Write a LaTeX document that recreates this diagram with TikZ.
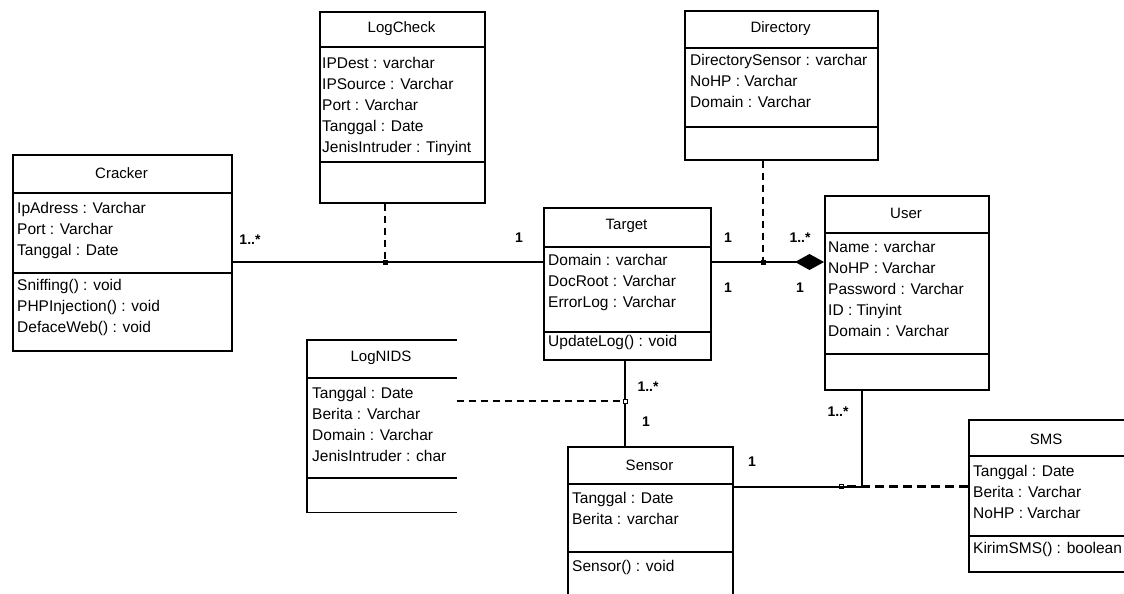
\documentclass[tikz,border=0pt]{standalone}
\usepackage{fontspec}
\setmainfont{Liberation Sans}
\usetikzlibrary{positioning,arrows.meta}

\tikzset{
  classbox/.style={draw, line width=1.6pt, rectangle, anchor=north west, inner sep=0pt},
  classtitle/.style={inner sep=0pt, font=\fontsize{15}{17}\selectfont},
  classtext/.style={anchor=north west, align=left, inner sep=0pt, font=\fontsize{15.5}{21}\selectfont},
  divider/.style={line width=1.6pt},
  assoc/.style={line width=1.6pt},
  dep/.style={line width=1.6pt, dash pattern=on 7pt off 5pt},
  smsdep/.style={line width=3pt, dash pattern=on 9pt off 5pt},
  junction/.style={draw, line width=0.8pt, fill=black, minimum size=4pt, inner sep=0pt},
  junction open/.style={junction, fill=white},
  mult/.style={inner sep=0pt, font=\bfseries\fontsize{14}{16}\selectfont}
}

\begin{document}
\begin{tikzpicture}[x=1pt, y=-1pt]
  \useasboundingbox (0,0) rectangle (1124,594);
  \clip (0,0) rectangle (1124,594);
  \fill[white] (0,0) rectangle (1124,594);

  % class boxes
  \node[classbox, minimum width=219pt, minimum height=196pt] (cracker) at (12,154) {};
  \node[classbox, minimum width=165pt, minimum height=191pt] (logcheck) at (319,11) {};
  \node[classbox, minimum width=193pt, minimum height=149pt] (directory) at (684,10) {};
  \node[classbox, minimum width=167pt, minimum height=152pt] (target) at (543,207) {};
  \node[classbox, minimum width=164pt, minimum height=194pt] (user) at (824,195) {};
  \node[classbox, draw=none, minimum width=148pt, minimum height=171pt] (lognids) at (307,340) {};
  \node[classbox, minimum width=165pt, minimum height=200pt] (sensor) at (567,446) {};
  \node[classbox, minimum width=180pt, minimum height=152pt] (sms) at (968,419) {};
  \draw[line width=1.6pt] (lognids.north east) -- (lognids.north west)
    -- (lognids.south west) -- (lognids.south east);

  % compartments
  \draw[divider] (cracker.west |- 0,193) -- (cracker.east |- 0,193);
  \draw[divider] (cracker.west |- 0,273) -- (cracker.east |- 0,273);
  \draw[divider] (logcheck.west |- 0,47) -- (logcheck.east |- 0,47);
  \draw[divider] (logcheck.west |- 0,162) -- (logcheck.east |- 0,162);
  \draw[divider] (directory.west |- 0,48) -- (directory.east |- 0,48);
  \draw[divider] (directory.west |- 0,127) -- (directory.east |- 0,127);
  \draw[divider] (target.west |- 0,247) -- (target.east |- 0,247);
  \draw[divider] (target.west |- 0,332) -- (target.east |- 0,332);
  \draw[divider] (user.west |- 0,233) -- (user.east |- 0,233);
  \draw[divider] (user.west |- 0,354) -- (user.east |- 0,354);
  \draw[divider] (lognids.west |- 0,378) -- (lognids.east |- 0,378);
  \draw[divider] (lognids.west |- 0,478) -- (lognids.east |- 0,478);
  \draw[divider] (sensor.west |- 0,484) -- (sensor.east |- 0,484);
  \draw[divider] (sensor.west |- 0,552) -- (sensor.east |- 0,552);
  \draw[divider] (sms.west |- 0,456) -- (sms.east |- 0,456);
  \draw[divider] (sms.west |- 0,536) -- (sms.east |- 0,536);

  % titles
  \node[classtitle] (crackername) at (121.5,173) {Cracker};
  \node[classtitle] (logcheckname) at (401.5,29) {LogCheck};
  \node[classtitle] (directoryname) at (780.5,29) {Directory};
  \node[classtitle] (targetname) at (626.5,226) {Target};
  \node[classtitle] (username) at (906,213) {User};
  \node[classtitle] (lognidsname) at (381,358) {LogNIDS};
  \node[classtitle] (sensorname) at (649.5,465) {Sensor};
  \node[classtitle] (smsname) at (1046,439) {SMS};

  % attributes and operations
  \node[classtext] (crackerattr) at (17,202) {IpAdress : Varchar\\Port : Varchar\\Tanggal : Date};
  \node[classtext] (crackerops) at (17,279) {Sniffing() : void\\PHPInjection() : void\\DefaceWeb() : void};
  \node[classtext] (logcheckattr) at (322,57) {IPDest : varchar\\IPSource : Varchar\\Port : Varchar\\Tanggal : Date\\JenisIntruder : Tinyint};
  \node[classtext] (directoryattr) at (690,54) {DirectorySensor : varchar\\NoHP : Varchar\\Domain : Varchar};
  \node[classtext] (targetattr) at (548,254) {Domain : varchar\\DocRoot : Varchar\\ErrorLog : Varchar};
  \node[classtext] (targetops) at (548,335) {UpdateLog() : void};
  \node[classtext] (userattr) at (828,241) {Name : varchar\\NoHP : Varchar\\Password : Varchar\\ID : Tinyint\\Domain : Varchar};
  \node[classtext] (lognidsattr) at (312,387) {Tanggal : Date\\Berita : Varchar\\Domain : Varchar\\JenisIntruder : char};
  \node[classtext] (sensorattr) at (572,492) {Tanggal : Date\\Berita : varchar};
  \node[classtext] (sensorops) at (572,560) {Sensor() : void};
  \node[classtext] (smsattr) at (973,465) {Tanggal : Date\\Berita : Varchar\\NoHP : Varchar};
  \node[classtext] (smsops) at (973,542) {KirimSMS() : boolean};

  % junction points
  \node[junction] (jcheck) at (385,262) {};
  \node[junction] (jdir) at (763,262) {};
  \node[junction open] (jnids) at (625,401) {};
  \node[junction open] (jsms) at (841,486) {};
  \coordinate (bend) at (862,487);

  % associations
  \draw[assoc] (cracker.east |- jcheck) -- (jcheck) -- (target.west |- jcheck);
  \draw[assoc, -{Diamond[length=29pt, width=16pt]}] (target.east |- jdir) -- (jdir) -- (user.west |- jdir);
  \draw[assoc] (target.south -| jnids) -- (jnids) -- (sensor.north -| jnids);
  \draw[assoc] (sensor.east |- bend) -- (bend) -- (bend |- user.south);

  % dependencies
  \draw[dep] (logcheck.south -| jcheck) -- (jcheck);
  \draw[dep] (directory.south -| jdir) -- (jdir);
  \draw[dep] (lognids.east |- jnids) -- (jnids);
  \draw[smsdep] (sms.west |- jsms) -- (jsms);

  % multiplicities
  \node[mult] (m1) at (250,240) {1..*};
  \node[mult] (m2) at (519,238) {1};
  \node[mult] (m3) at (728,238) {1};
  \node[mult] (m4) at (800,238) {1..*};
  \node[mult] (m5) at (728,288) {1};
  \node[mult] (m6) at (800,288) {1};
  \node[mult] (m7) at (648,387) {1..*};
  \node[mult] (m8) at (646,422) {1};
  \node[mult] (m9) at (752,462) {1};
  \node[mult] (m10) at (838,412) {1..*};
\end{tikzpicture}
\end{document}
